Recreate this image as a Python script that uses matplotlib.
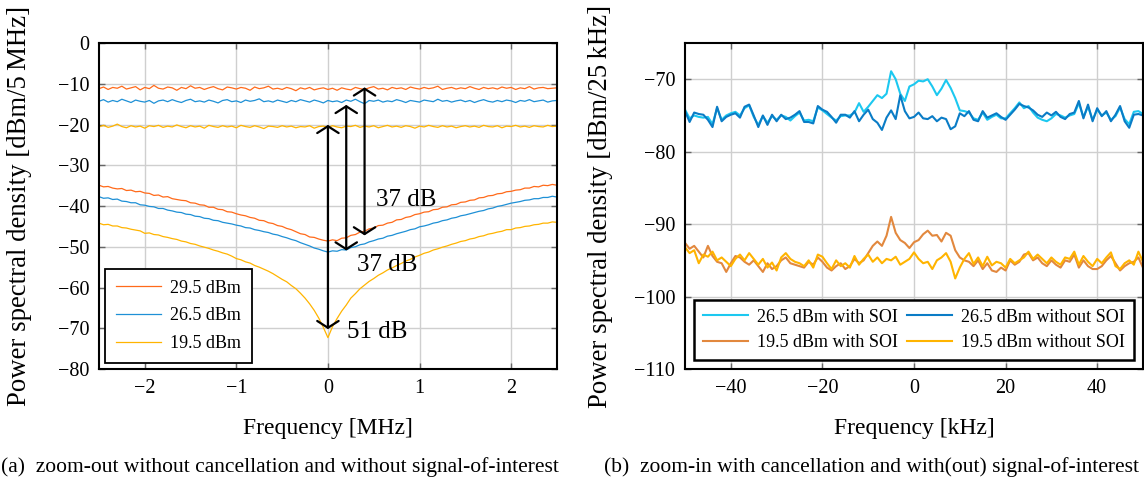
import numpy as np
import matplotlib
matplotlib.use("Agg")
import matplotlib.pyplot as plt

plt.rcParams['font.family'] = ['Liberation Serif', 'DejaVu Serif']
plt.rcParams['mathtext.fontset'] = 'stix'

# ---------------- data: panel (a) ----------------
freq_mhz = np.linspace(-2.5, 2.5, 101)  # 0.05 MHz grid

flat_29_5 = [-11.2,-10.8,-11.4,-10.9,-11.1,-10.6,-11.3,-11.0,-10.7,-11.5,
             -10.9,-11.2,-10.4,-11.1,-11.3,-10.8,-11.0,-11.6,-10.9,-11.2,
             -10.5,-11.1,-10.9,-11.4,-11.0,-10.7,-11.2,-11.5,-10.8,-11.0,
             -11.3,-10.9,-11.1,-11.6,-10.8,-11.2,-11.0,-10.6,-11.3,-11.1,
             -11.4,-10.9,-11.2,-11.7,-11.0,-11.3,-10.9,-11.5,-11.2,-11.0,
             -11.4,-11.1,-11.6,-11.0,-11.3,-11.5,-10.9,-11.2,-11.4,-11.0,
             -10.7,-11.3,-11.1,-11.5,-10.9,-11.2,-11.0,-11.4,-10.8,-11.1,
             -11.3,-10.9,-11.2,-11.0,-10.6,-11.4,-11.1,-10.9,-11.3,-11.0,
             -11.2,-10.7,-11.1,-11.4,-10.9,-11.2,-11.0,-11.3,-10.8,-11.1,
             -10.9,-11.4,-11.0,-11.2,-10.7,-11.3,-11.0,-10.9,-11.2,-11.1,
             -11.0]
flat_26_5 = [-14.3,-13.9,-14.5,-14.1,-14.4,-13.8,-14.2,-14.6,-14.0,-14.3,
             -14.5,-14.1,-14.8,-14.2,-14.0,-14.4,-13.9,-14.3,-14.6,-14.1,
             -13.8,-14.4,-14.2,-14.5,-14.0,-14.3,-14.7,-14.1,-13.9,-14.4,
             -14.2,-14.6,-14.0,-14.3,-14.1,-13.7,-14.4,-14.2,-14.5,-14.0,
             -14.3,-14.6,-14.1,-14.4,-13.9,-14.2,-14.5,-14.0,-14.3,-14.7,
             -14.1,-14.4,-14.2,-14.6,-14.0,-14.3,-13.8,-14.4,-14.9,-14.1,
             -14.3,-14.0,-14.5,-14.2,-14.4,-13.9,-14.2,-14.6,-14.1,-14.3,
             -14.5,-14.0,-14.2,-14.4,-13.8,-14.3,-14.1,-14.5,-14.2,-14.0,
             -14.4,-14.1,-14.6,-14.2,-13.9,-14.3,-14.5,-14.1,-14.4,-14.0,
             -14.2,-14.6,-14.1,-14.3,-13.9,-14.4,-14.2,-14.0,-14.5,-14.2,
             -14.1]
flat_19_5 = [-20.6,-20.2,-20.7,-20.4,-19.9,-20.5,-20.8,-20.3,-20.6,-20.4,
             -20.9,-20.3,-20.5,-20.2,-20.7,-20.4,-20.6,-20.1,-20.5,-20.8,
             -20.3,-20.6,-20.4,-20.9,-20.2,-20.5,-20.7,-20.3,-20.6,-20.4,
             -20.8,-20.2,-20.5,-20.7,-20.3,-20.6,-21.0,-20.4,-20.5,-20.7,
             -20.3,-20.6,-20.4,-20.8,-20.5,-20.6,-20.3,-20.9,-20.5,-20.4,
             -20.7,-20.3,-20.6,-20.8,-20.4,-20.5,-20.2,-20.7,-20.4,-20.6,
             -20.3,-20.8,-20.5,-20.2,-20.6,-20.4,-20.7,-20.3,-20.5,-20.9,
             -20.4,-20.6,-20.2,-20.5,-20.7,-20.3,-20.6,-20.4,-20.8,-20.5,
             -20.3,-20.6,-20.4,-20.7,-20.2,-20.5,-20.6,-20.3,-20.8,-20.4,
             -20.5,-20.2,-20.6,-20.4,-20.7,-20.3,-20.5,-20.6,-20.2,-20.5,
             -20.4]
canc_29_5 = [-34.9,-35.3,-35.2,-35.6,-35.8,-35.7,-36.2,-36.1,-36.5,-36.4,
             -36.8,-36.9,-37.4,-37.3,-37.8,-37.7,-38.2,-38.4,-38.6,-38.7,
             -39.2,-39.3,-39.7,-39.8,-40.3,-40.3,-40.8,-40.9,-41.4,-41.5,
             -41.9,-42.2,-42.4,-42.8,-43.0,-43.5,-43.6,-44.1,-44.3,-44.8,
             -45.0,-45.5,-45.8,-46.3,-46.8,-47.0,-47.6,-47.7,-48.1,-48.4,
             -48.6,-48.3,-48.5,-47.9,-47.8,-47.2,-47.0,-46.4,-46.2,-45.6,
             -45.4,-44.8,-44.7,-44.2,-44.0,-43.4,-43.3,-42.8,-42.6,-42.1,
             -41.9,-41.5,-41.4,-40.9,-40.8,-40.3,-40.2,-39.7,-39.6,-39.1,
             -39.0,-38.6,-38.5,-38.0,-37.9,-37.5,-37.4,-37.0,-36.9,-36.5,
             -36.4,-36.1,-36.0,-35.6,-35.6,-35.2,-35.3,-34.9,-35.0,-34.7,
             -34.9]
canc_26_5 = [-37.7,-38.1,-38.0,-38.4,-38.3,-38.8,-38.9,-39.2,-39.2,-39.7,
             -39.8,-40.1,-40.2,-40.6,-40.6,-41.0,-41.2,-41.5,-41.6,-42.0,
             -42.1,-42.5,-42.6,-43.0,-43.1,-43.5,-43.6,-44.0,-44.2,-44.4,
             -44.7,-44.9,-45.3,-45.4,-45.8,-46.0,-46.3,-46.5,-46.9,-47.1,
             -47.5,-47.8,-48.2,-48.5,-49.0,-49.4,-49.8,-50.3,-50.6,-51.0,
             -51.3,-51.0,-51.1,-50.7,-50.8,-50.2,-50.0,-49.5,-49.3,-48.8,
             -48.5,-48.1,-47.9,-47.4,-47.2,-46.8,-46.5,-46.2,-45.8,-45.6,
             -45.1,-44.9,-44.6,-44.2,-44.0,-43.6,-43.4,-43.0,-42.8,-42.4,
             -42.2,-41.9,-41.6,-41.3,-41.1,-40.7,-40.5,-40.1,-39.9,-39.6,
             -39.3,-39.1,-38.9,-38.6,-38.5,-38.2,-38.2,-37.9,-37.9,-37.6,
             -37.8]
canc_19_5 = [-44.2,-44.6,-44.5,-44.9,-44.9,-45.3,-45.4,-45.7,-45.9,-46.1,
             -46.7,-46.6,-47.0,-47.1,-47.5,-47.7,-48.0,-48.2,-48.6,-48.8,
             -49.2,-49.4,-49.8,-50.1,-50.4,-50.8,-51.1,-51.5,-51.8,-52.3,
             -52.9,-53.2,-53.7,-54.0,-54.6,-55.0,-55.5,-56.0,-56.6,-57.3,
             -58.0,-58.6,-59.5,-60.3,-61.4,-62.6,-64.0,-65.6,-67.5,-69.8,
             -72.3,-69.6,-67.6,-65.8,-64.3,-62.6,-61.5,-60.3,-59.4,-58.5,
             -57.8,-57.0,-56.4,-55.7,-55.2,-54.6,-54.1,-53.5,-53.1,-52.5,
             -52.1,-51.6,-51.3,-50.8,-50.5,-50.1,-49.8,-49.4,-49.1,-48.7,
             -48.5,-48.1,-47.9,-47.5,-47.3,-46.9,-46.7,-46.4,-46.2,-45.8,
             -45.8,-45.4,-45.3,-45.0,-44.9,-44.6,-44.5,-44.2,-44.2,-43.9,
             -44.0]
labels_a = ['29.5 dBm', '26.5 dBm', '19.5 dBm']
colors_a = ['#ff6a1a', '#1e90d6', '#ffb400']

# arrows: (frequency, top, bottom) and annotation texts
arrow_freq = [0.0, 0.2, 0.4]
arrow_top = [-20.1, -15.2, -10.9]
arrow_bottom = [-70.2, -50.9, -47.2]
annot_text = ['51 dB', '37 dB', '37 dB']
annot_pos = [(0.54, -71.0), (0.65, -54.5), (0.85, -38.5)]

# ---------------- data: panel (b) ----------------
freq_khz = np.arange(-50, 51, 1)
soi_26_5 = [-74.2,-75.4,-75.0,-75.2,-75.3,-75.2,-76.2,-74.0,-75.6,-75.0,
            -74.7,-74.5,-75.0,-74.0,-73.6,-75.2,-76.3,-75.1,-76.0,-75.1,
            -75.6,-75.0,-75.2,-75.7,-75.1,-74.6,-75.7,-75.6,-75.8,-73.9,
            -74.3,-74.8,-75.3,-75.7,-75.1,-75.0,-75.0,-74.6,-73.3,-74.5,
            -73.8,-73.0,-72.2,-72.6,-72.0,-68.9,-70.0,-72.0,-73.0,-71.0,
            -70.7,-70.2,-70.3,-70.0,-71.0,-72.2,-71.3,-70.1,-71.2,-72.6,
            -74.3,-74.4,-74.6,-75.4,-75.6,-74.6,-75.6,-75.2,-74.9,-75.4,
            -75.4,-74.7,-74.0,-73.2,-74.0,-73.7,-74.6,-75.3,-75.6,-75.8,
            -75.4,-74.8,-75.0,-75.3,-75.0,-74.8,-73.3,-75.2,-73.8,-75.6,
            -74.2,-75.0,-74.6,-75.6,-75.1,-73.9,-75.5,-76.2,-74.5,-74.4,
            -74.8]
nosoi_26_5 = [-74.4,-75.9,-74.6,-74.8,-74.9,-75.6,-76.6,-73.8,-75.8,-75.2,
              -74.9,-74.7,-75.3,-73.8,-73.5,-75.0,-76.6,-75.0,-76.3,-74.9,
              -75.8,-74.9,-75.5,-75.3,-74.9,-74.4,-75.9,-75.9,-76.1,-73.7,
              -74.2,-74.5,-75.2,-76.0,-74.9,-74.9,-75.3,-74.4,-75.8,-74.9,
              -74.2,-75.5,-76.0,-77.0,-75.3,-74.3,-75.5,-72.2,-74.4,-75.4,
              -75.2,-74.6,-75.4,-75.5,-75.1,-75.8,-75.3,-75.5,-76.9,-76.5,
              -74.7,-75.1,-74.4,-75.6,-75.8,-74.4,-75.3,-75.0,-74.7,-75.2,
              -75.6,-74.9,-74.2,-73.4,-73.7,-73.9,-74.3,-74.9,-75.2,-74.6,
              -75.0,-74.5,-75.2,-75.5,-74.8,-74.6,-73.0,-75.4,-73.5,-75.8,
              -74.0,-75.1,-74.4,-75.8,-74.9,-73.7,-75.8,-76.7,-74.9,-74.8,
              -75.0]
soi_19_5 = [-92.6,-93.4,-93.0,-93.8,-94.6,-93.0,-94.4,-95.2,-95.4,-96.6,
            -95.4,-94.4,-94.6,-95.2,-95.6,-95.0,-95.8,-96.6,-95.4,-96.2,
            -95.8,-95.0,-94.6,-95.4,-95.6,-95.8,-96.0,-95.2,-95.6,-94.6,
            -95.2,-96.0,-96.4,-95.8,-95.4,-96.2,-95.8,-94.8,-95.4,-95.0,
            -94.0,-93.0,-92.4,-93.0,-91.6,-89.0,-91.2,-92.2,-92.6,-93.3,
            -92.5,-92.2,-91.4,-90.9,-91.6,-91.5,-92.4,-91.2,-91.6,-93.6,
            -94.6,-95.0,-95.2,-95.8,-95.0,-96.2,-95.4,-96.4,-96.6,-96.0,
            -96.4,-95.0,-95.6,-95.2,-94.2,-94.0,-95.0,-94.6,-95.4,-95.8,
            -95.0,-95.6,-96.0,-95.0,-95.2,-94.2,-96.0,-95.0,-95.8,-96.2,
            -96.2,-95.8,-95.0,-94.4,-95.4,-96.4,-95.8,-95.4,-95.2,-94.6,
            -96.0]
nosoi_19_5 = [-93.2,-94.0,-93.6,-95.4,-94.2,-94.5,-93.8,-95.0,-94.6,-95.2,
              -95.8,-94.8,-94.2,-95.0,-94.0,-94.8,-95.6,-94.8,-96.0,-95.3,
              -96.4,-94.6,-94.0,-94.8,-95.2,-95.4,-95.8,-95.0,-96.0,-94.2,
              -94.5,-95.4,-96.2,-95.0,-95.8,-95.4,-96.0,-94.4,-95.6,-94.8,
              -94.2,-95.2,-94.6,-95.4,-94.8,-95.0,-94.5,-95.6,-95.2,-94.8,
              -93.9,-94.8,-95.4,-95.2,-96.2,-95.0,-94.6,-94.0,-95.2,-97.5,
              -96.0,-94.8,-94.0,-95.5,-94.6,-95.8,-94.5,-95.7,-95.2,-95.4,
              -96.0,-94.8,-95.4,-95.0,-94.6,-93.8,-94.8,-94.2,-94.8,-95.4,
              -94.6,-95.2,-95.6,-94.6,-94.8,-93.8,-95.6,-94.4,-95.2,-95.8,
              -94.8,-95.4,-94.6,-93.9,-95.8,-96.2,-95.4,-95.0,-95.6,-93.8,
              -95.2]
labels_b = ['26.5 dBm with SOI', '26.5 dBm without SOI',
            '19.5 dBm with SOI', '19.5 dBm without SOI']
colors_b = ['#1cc8f0', '#0a7cc6', '#e2883e', '#ffb400']

# ---------------- figure ----------------
fig = plt.figure(figsize=(11.44, 4.86), dpi=100)
ax1 = fig.add_axes([0.0865, 0.2407, 0.4003, 0.6708])
ax2 = fig.add_axes([0.5988, 0.2407, 0.4003, 0.6708])

TICK_FS = 14.5
XLABEL_FS = 17
YLABEL_FS = 19.3

for ax in (ax1, ax2):
    ax.grid(True, color='#cfcfcf', lw=1.0)
    ax.set_axisbelow(True)
    ax.tick_params(direction='in', length=4, width=1, color='#666666',
                   top=True, right=True, labelsize=TICK_FS, pad=7)
    for sp in ax.spines.values():
        sp.set_linewidth(1.5)

# panel (a)
for ys, c in zip([flat_29_5, flat_26_5, flat_19_5], colors_a):
    ax1.plot(freq_mhz, ys, color=c, lw=0.9)
handles = []
for ys, c, lab in zip([canc_29_5, canc_26_5, canc_19_5], colors_a, labels_a):
    h, = ax1.plot(freq_mhz, ys, color=c, lw=0.9, label=lab)
    handles.append(h)
ax1.set_xlim(-2.5, 2.5)
ax1.set_ylim(-80, 0)
ax1.set_xticks([-2, -1, 0, 1, 2])
ax1.set_yticks(np.arange(-80, 1, 10))
ax1.set_xlabel('Frequency [MHz]', fontsize=XLABEL_FS)
ax1.set_ylabel('Power spectral density [dBm/5\u2009MHz]', fontsize=YLABEL_FS, va='center')
ax1.xaxis.set_label_coords(0.5, -0.15)
ax1.yaxis.set_label_coords(-0.1725, 0.5)

for f, t, b in zip(arrow_freq, arrow_top, arrow_bottom):
    ax1.annotate('', xy=(f, t), xytext=(f, b),
                 arrowprops=dict(arrowstyle='<->, head_length=0.35, head_width=0.55',
                                 lw=1.6, color='k', shrinkA=0, shrinkB=0,
                                 mutation_scale=14))
for txt, (x, y) in zip(annot_text, annot_pos):
    ax1.text(x, y, txt, fontsize=18, ha='center', va='center')

leg1 = ax1.legend(handles=handles, loc='lower left', bbox_to_anchor=(0.013, 0.018),
                  borderaxespad=0, fontsize=13, frameon=True, fancybox=False,
                  edgecolor='k', framealpha=1, handlelength=2.5, labelspacing=0.6,
                  borderpad=0.6, handletextpad=0.5)
leg1.get_frame().set_linewidth(1.3)

# panel (b)
lines_b = []
for ys, c, lab in zip([soi_26_5, nosoi_26_5, soi_19_5, nosoi_19_5], colors_b, labels_b):
    h, = ax2.plot(freq_khz, ys, color=c, lw=1.5, label=lab)
    lines_b.append(h)
ax2.set_xlim(-50, 50)
ax2.set_ylim(-110, -65)
ax2.set_xticks([-40, -20, 0, 20, 40])
ax2.set_yticks([-110, -100, -90, -80, -70])
ax2.set_xlabel('Frequency [kHz]', fontsize=XLABEL_FS)
ax2.set_ylabel('Power spectral density [dBm/25\u2009kHz]', fontsize=YLABEL_FS, va='center')
ax2.xaxis.set_label_coords(0.5, -0.15)
ax2.yaxis.set_label_coords(-0.1856, 0.5)
# legend filled row-wise: reorder for matplotlib's column-wise filling
order = [0, 2, 1, 3]
leg2 = ax2.legend([lines_b[i] for i in order], [labels_b[i] for i in order],
                  loc='lower center', bbox_to_anchor=(0.5, 0.028), ncol=2,
                  borderaxespad=0, fontsize=13, frameon=True, fancybox=False,
                  edgecolor='k', framealpha=1, handlelength=2.5, columnspacing=0.5,
                  labelspacing=0.45, borderpad=0.5, handletextpad=0.5)
leg2.get_frame().set_linewidth(1.8)

fig.text(0.2445, 0.039, '(a)  zoom-out without cancellation and without signal-of-interest',
         ha='center', va='center', fontsize=15.5)
fig.text(0.762, 0.039, '(b)  zoom-in with cancellation and with(out) signal-of-interest',
         ha='center', va='center', fontsize=15.5)

fig.savefig('out.png', dpi=100)
